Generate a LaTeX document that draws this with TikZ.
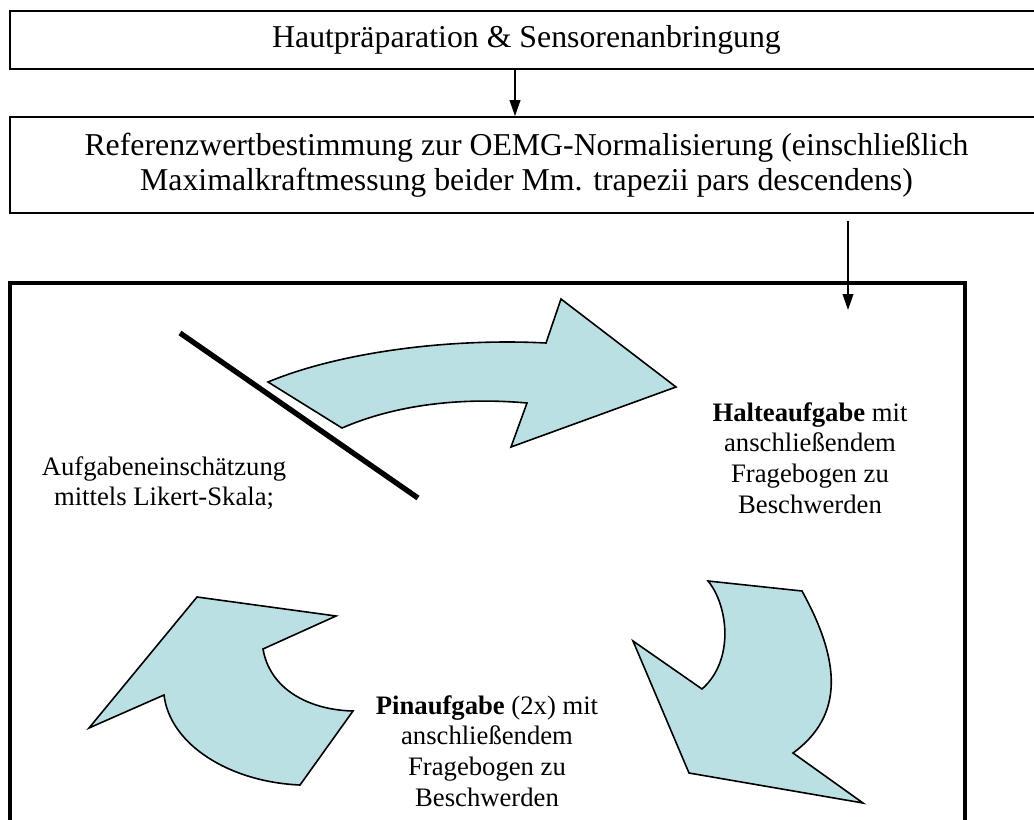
\documentclass[tikz,border=0pt]{standalone}
\usepackage{fontspec}
\setmainfont{Liberation Serif}
\usetikzlibrary{arrows.meta}
\definecolor{shapefill}{RGB}{187,224,227}
\begin{document}
\begin{tikzpicture}[x=0.75pt,y=-0.75pt,
  box/.style={draw, line width=1.3pt, minimum width=774.75pt, inner sep=0pt, align=center, font=\fontsize{23.85}{26.6}\selectfont},
  conn/.style={line width=1.3pt, -{Triangle[length=12pt,width=8pt]}},
  bent/.style={fill=shapefill, draw=black, line width=1.2pt, line join=miter},
  lbl/.style={align=center, inner sep=0pt, font=\fontsize{20}{23}\selectfont}]
\useasboundingbox (0,0) rectangle (1034,820);
\clip (0,0) rectangle (1034,820);
\node[box, minimum height=43.5pt] (box1) at (526.5,40) {Hautpräparation \& Sensorenanbringung};
\node[box, minimum height=72pt] (box2) at (526.5,165) {Referenzwertbestimmung zur OEMG-Normalisierung (einschließlich\\Maximalkraftmessung beider Mm. trapezii pars descendens)};
\node[draw, line width=3pt, minimum width=716.25pt, minimum height=425.25pt, inner sep=0pt] (frame) at (487.5,566.5) {};
\coordinate (a1) at (515,0);
\draw[conn] (a1 |- box1.south) -- (a1 |- box2.north);
\coordinate (a2s) at (848,221);
\coordinate (a2e) at (848,310);
\draw[conn] (a2s) -- (a2e);
% top curved arrow
\draw[bent] (268,382) .. controls (340,352) and (450,338) .. (546,343) -- (561,299) -- (676,387) -- (511,447) -- (527,403) .. controls (460,397) and (395,405) .. (342,428) -- cycle;
% right curved arrow
\draw[bent] (708,581) -- (802,591) .. controls (840,660) and (845,715) .. (793,753) -- (863,803) -- (689,773) -- (633,641) -- (702,689) .. controls (735,660) and (728,605) .. (708,581) -- cycle;
% left curved arrow
\draw[bent] (197,597) -- (336,616) -- (263,649) .. controls (270,690) and (310,710) .. (353,711) -- (300,785) .. controls (230,782) and (170,745) .. (164,695) -- (89,728) -- cycle;
% slash line
\draw[line width=4pt] (180,333) -- (418,498);
\node[lbl] (halte) at (810,458) {\textbf{Halteaufgabe} mit\\anschließendem\\Fragebogen zu\\Beschwerden};
\node[lbl] (pin) at (487,751) {\textbf{Pinaufgabe} (2x) mit\\anschließendem\\Fragebogen zu\\Beschwerden};
\node[lbl] (likert) at (164,483) {Aufgabeneinschätzung\\mittels Likert-Skala;};
\end{tikzpicture}
\end{document}
